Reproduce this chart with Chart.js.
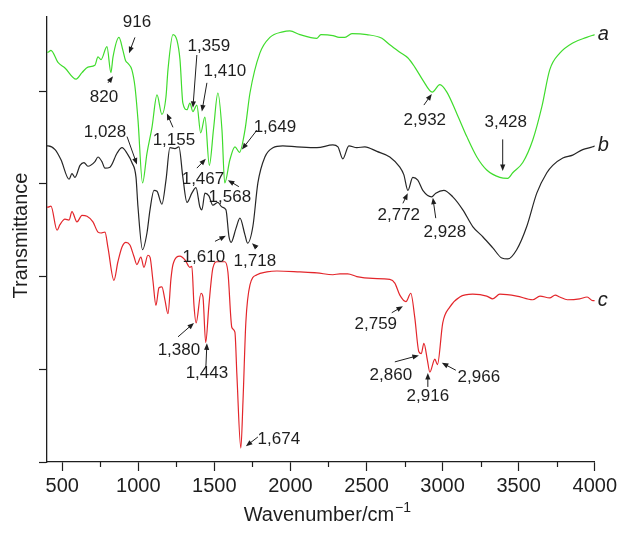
<!DOCTYPE html>
<html>
<head>
<meta charset="utf-8">
<script src="https://cdn.jsdelivr.net/npm/chart.js@4.4.1/dist/chart.umd.min.js"></script>
<style>
  html, body { margin:0; padding:0; background:#fff; }
  #c { display:block; }
</style>
</head>
<body>
<canvas id="c" width="620" height="533"></canvas>
<script>
// FTIR spectra a / b / c — wavenumber (cm-1) vs transmittance (offset, arbitrary units)

const xTicks = [500, 1000, 1500, 2000, 2500, 3000, 3500, 4000];

const waveA = [400,407,426,472,518,591,630,669,715,735,755,794,820,834,873,899,916,932,958,978,998,1028,1057,1090,1123,1155,1182,1195,1228,1254,1274,1293,1320,1339,1359,1385,1410,1438,1467,1495,1523,1550,1568,1602,1635,1665,1701,1734,1799,1865,1950,1996,2062,2174,2200,2279,2320,2358,2404,2502,2601,2653,2719,2771,2817,2870,2932,2982,3028,3093,3159,3225,3290,3376,3428,3461,3527,3592,3652,3704,3770,3855,3947,4000];
const transA = [4.42,4.42,4.44,4.31,4.25,4.13,4.20,4.26,4.28,4.37,4.34,4.48,4.20,4.37,4.58,4.44,4.33,4.30,4.23,4.05,3.69,3.01,3.33,3.61,3.96,3.75,3.94,4.23,4.61,4.55,4.34,3.87,3.80,3.87,3.78,3.85,3.55,3.72,3.20,3.60,3.98,3.58,3.01,3.26,3.40,3.34,3.58,3.98,4.41,4.58,4.64,4.65,4.61,4.57,4.61,4.60,4.58,4.58,4.62,4.61,4.57,4.50,4.42,4.36,4.26,4.12,3.99,4.07,3.99,3.76,3.51,3.29,3.15,3.07,3.06,3.12,3.23,3.47,3.83,4.23,4.41,4.52,4.58,4.61];

const waveB = [400,407,453,492,545,564,584,617,643,669,715,735,761,781,814,860,893,926,958,985,998,1028,1057,1077,1103,1123,1155,1182,1208,1241,1267,1293,1320,1352,1379,1405,1418,1438,1464,1490,1523,1550,1576,1596,1610,1642,1668,1701,1718,1753,1786,1832,1885,1950,2042,2174,2279,2312,2344,2384,2436,2489,2568,2653,2719,2745,2772,2804,2837,2870,2928,2955,3008,3067,3133,3198,3264,3330,3389,3428,3487,3553,3619,3685,3724,3790,3855,3921,3987,4000];
const transB = [3.41,3.41,3.37,3.26,3.05,3.11,3.07,3.20,3.23,3.19,3.24,3.29,3.24,3.17,3.18,3.33,3.39,3.33,3.23,3.07,2.75,2.29,2.47,2.72,2.93,2.92,2.78,3.04,3.39,3.38,3.40,3.07,2.80,2.90,2.96,2.75,2.72,2.90,2.87,2.77,2.80,2.75,2.72,2.43,2.37,2.52,2.63,2.45,2.36,2.54,3.01,3.29,3.39,3.41,3.40,3.39,3.42,3.40,3.27,3.41,3.39,3.40,3.35,3.29,3.18,3.10,2.93,3.07,3.04,2.93,2.86,2.90,2.93,2.86,2.72,2.54,2.43,2.31,2.20,2.19,2.29,2.54,2.90,3.12,3.20,3.28,3.31,3.37,3.40,3.41];

const waveC = [400,407,426,466,485,518,545,564,597,630,663,702,735,755,781,801,840,866,893,919,945,971,991,1017,1037,1063,1077,1096,1116,1136,1155,1175,1195,1215,1228,1274,1307,1339,1352,1366,1380,1412,1425,1443,1464,1490,1517,1569,1589,1615,1635,1648,1674,1688,1707,1734,1780,1845,1911,2062,2174,2279,2325,2377,2436,2541,2653,2686,2719,2759,2791,2817,2844,2860,2877,2900,2916,2949,2966,3001,3047,3113,3198,3290,3330,3376,3487,3592,3640,3704,3740,3770,3820,3901,3950,3987,4000];
const transC = [2.75,2.75,2.76,2.50,2.56,2.62,2.61,2.70,2.59,2.66,2.65,2.59,2.48,2.47,2.48,2.31,1.96,2.16,2.32,2.37,2.34,2.22,2.13,2.21,2.10,2.23,2.21,1.96,1.69,1.88,1.89,1.75,1.60,1.98,2.13,2.22,2.18,2.10,2.11,1.69,1.50,1.82,1.78,1.29,1.69,2.09,2.16,2.16,2.05,1.45,1.40,0.94,0.15,0.65,1.51,1.91,2.02,2.05,2.06,2.05,2.04,2.02,2.03,2.03,2.00,1.98,1.97,1.93,1.80,1.73,1.82,1.56,1.19,1.17,1.28,1.10,0.97,1.11,1.05,1.50,1.67,1.78,1.81,1.79,1.76,1.81,1.79,1.75,1.79,1.77,1.80,1.78,1.75,1.76,1.78,1.74,1.74];

const seriesNames = ['a', 'b', 'c'];
const seriesColors = ['#3fdc2c', '#262626', '#e3262b'];

// peak labels: text, text position (wn, T), arrow from (wn, T) to (wn, T)
const peakNotes = [
  ['916',   991, 4.74,  978, 4.58,  939, 4.41],
  ['820',   774, 3.93,  801, 4.09,  834, 4.16],
  ['1,359', 1464, 4.48, 1385, 4.39, 1359, 3.82],
  ['1,410', 1569, 4.21, 1451, 4.09, 1418, 3.78],
  ['1,028', 781, 3.56,  926, 3.51,  991, 3.21],
  ['1,155', 1234, 3.47, 1228, 3.61, 1188, 3.76],
  ['1,649', 1898, 3.61, 1780, 3.58, 1681, 3.37],
  ['1,467', 1425, 3.05, 1385, 3.17, 1444, 3.27],
  ['1,568', 1602, 2.86, 1661, 2.97, 1589, 3.04],
  ['1,610', 1431, 2.21, 1504, 2.38, 1576, 2.44],
  ['1,718', 1766, 2.16, 1780, 2.31, 1747, 2.36],
  ['1,380', 1267, 1.21, 1261, 1.35, 1366, 1.50],
  ['1,443', 1451, 0.96, 1444, 1.02, 1451, 1.28],
  ['1,674', 1924, 0.25, 1786, 0.27, 1707, 0.17],
  ['2,932', 2883, 3.69, 2877, 3.85, 2929, 3.97],
  ['3,428', 3415, 3.66, 3395, 3.48, 3395, 3.14],
  ['2,772', 2712, 2.66, 2739, 2.79, 2771, 2.90],
  ['2,928', 3015, 2.48, 2955, 2.63, 2936, 2.85],
  ['2,759', 2561, 1.48, 2666, 1.61, 2739, 1.68],
  ['2,860', 2660, 0.94, 2686, 1.08, 2844, 1.15],
  ['2,916', 2903, 0.71, 2903, 0.81, 2903, 0.96],
  ['2,966', 3238, 0.91, 3087, 0.99, 2995, 1.07]
];

const INK = '#1e1e1e';
const FONT = '"Liberation Sans", Arial, sans-serif';

function toPoints(xs, ys){ return xs.map((x,i) => ({ x:x, y:ys[i] })); }

const annotate = {
  id: 'annotate',
  afterDatasetsDraw(chart){
    const ctx = chart.ctx, xs = chart.scales.x, ys = chart.scales.y;
    ctx.save();
    // minor ticks on x axis
    ctx.strokeStyle = INK; ctx.lineWidth = 1.2;
    for(let i = 0; i < xTicks.length; i++){
      const v = xTicks[i] - 250;
      if(v < xs.min) continue;
      const px = Math.round(xs.getPixelForValue(v)) + 0.5;
      ctx.beginPath(); ctx.moveTo(px, ys.bottom); ctx.lineTo(px, ys.bottom + 5); ctx.stroke();
    }
    // peak labels + arrows
    ctx.fillStyle = INK;
    ctx.font = '17px ' + FONT;
    ctx.textAlign = 'center'; ctx.textBaseline = 'middle';
    peakNotes.forEach(n => {
      ctx.fillText(n[0], xs.getPixelForValue(n[1]), ys.getPixelForValue(n[2]));
      const x0 = xs.getPixelForValue(n[3]), y0 = ys.getPixelForValue(n[4]);
      const x1 = xs.getPixelForValue(n[5]), y1 = ys.getPixelForValue(n[6]);
      const a = Math.atan2(y1 - y0, x1 - x0), L = 6.5, W = 2.6;
      ctx.lineWidth = 1;
      ctx.beginPath(); ctx.moveTo(x0, y0);
      ctx.lineTo(x1 - Math.cos(a) * L * 0.8, y1 - Math.sin(a) * L * 0.8); ctx.stroke();
      ctx.beginPath();
      ctx.moveTo(x1, y1);
      ctx.lineTo(x1 - Math.cos(a) * L - Math.sin(a) * W, y1 - Math.sin(a) * L + Math.cos(a) * W);
      ctx.lineTo(x1 - Math.cos(a) * L + Math.sin(a) * W, y1 - Math.sin(a) * L - Math.cos(a) * W);
      ctx.closePath(); ctx.fill();
    });
    // curve names at right end
    ctx.font = 'italic 20px ' + FONT;
    ctx.textAlign = 'left';
    const lastY = [transA[transA.length-1], transB[transB.length-1], transC[transC.length-1]];
    seriesNames.forEach((s,i) => {
      ctx.fillText(s, xs.right + 3, ys.getPixelForValue(lastY[i]));
    });
    // axis titles
    ctx.font = '20px ' + FONT;
    ctx.textAlign = 'left'; ctx.textBaseline = 'alphabetic';
    const main = 'Wavenumber/cm', sup = '\u22121';
    const wMain = ctx.measureText(main).width;
    ctx.font = '14px ' + FONT;
    const wSup = ctx.measureText(sup).width;
    const x0 = (xs.left + xs.right) / 2 - (wMain + wSup) / 2 + 6;
    ctx.font = '20px ' + FONT;
    ctx.fillText(main, x0, 521);
    ctx.font = '14px ' + FONT;
    ctx.fillText(sup, x0 + wMain + 1, 512);
    ctx.font = '20px ' + FONT;
    ctx.translate(27, (ys.top + ys.bottom) / 2 - 4);
    ctx.rotate(-Math.PI / 2);
    ctx.textAlign = 'center';
    ctx.fillText('Transmittance', 0, 0);
    ctx.restore();
  }
};

new Chart(document.getElementById('c'), {
  type: 'line',
  data: {
    datasets: [
      { label:'a', data: toPoints(waveA, transA), borderColor: seriesColors[0] },
      { label:'b', data: toPoints(waveB, transB), borderColor: seriesColors[1] },
      { label:'c', data: toPoints(waveC, transC), borderColor: seriesColors[2] }
    ].map(d => Object.assign(d, { borderWidth:1.2, pointRadius:0, fill:false, cubicInterpolationMode:'monotone' }))
  },
  options: {
    responsive:false, animation:false, devicePixelRatio:1,
    layout:{ padding:{ top:17, right:25, left:0, bottom:0 } },
    plugins:{ legend:{ display:false }, tooltip:{ enabled:false } },
    scales:{
      x:{
        type:'linear', min:400, max:4000,
        afterFit: s => { s.height = 71; },
        afterBuildTicks: s => { s.ticks = xTicks.map(v => ({ value:v })); },
        ticks:{ font:{ size:20, family:FONT }, color:INK, padding:3, maxRotation:0, autoSkip:false,
                callback: v => String(v) },
        grid:{ drawOnChartArea:false, drawTicks:true, tickLength:9, color:INK, tickWidth:1.2 },
        border:{ display:true, color:INK, width:1.3 }
      },
      y:{
        min:0, max:4.8,
        afterFit: s => { s.width = 47; },
        afterBuildTicks: s => { s.ticks = [0,1,2,3,4].map(v => ({ value:v })); },
        ticks:{ display:false },
        grid:{ drawOnChartArea:false, drawTicks:true, tickLength:8, color:INK, tickWidth:1.2 },
        border:{ display:true, color:INK, width:1.3 }
      }
    }
  },
  plugins:[annotate]
});
</script>
</body>
</html>
